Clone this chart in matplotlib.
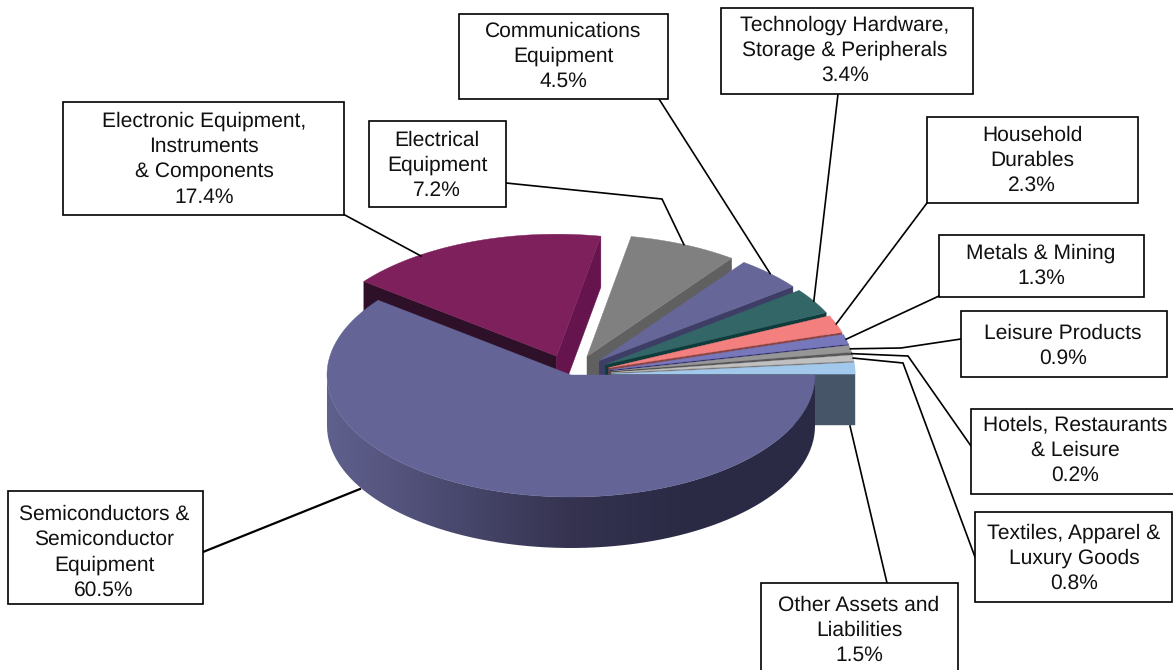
import matplotlib
matplotlib.use("Agg")
import matplotlib.pyplot as plt
from matplotlib.colors import LinearSegmentedColormap
from matplotlib.patches import Polygon, Rectangle
import numpy as np

plt.rcParams['font.family'] = ['Liberation Sans', 'DejaVu Sans']
plt.rcParams['text.hinting'] = 'no_hinting'
plt.rcParams['text.hinting_factor'] = 1

# chart data
sectors = ["Semiconductors &\nSemiconductor\nEquipment",
           "Electronic Equipment,\nInstruments\n& Components",
           "Electrical\nEquipment",
           "Communications\nEquipment",
           "Technology Hardware,\nStorage & Peripherals",
           "Household\nDurables",
           "Metals & Mining",
           "Leisure Products",
           "Hotels, Restaurants\n& Leisure",
           "Textiles, Apparel &\nLuxury Goods",
           "Other Assets and\nLiabilities"]
weights = [60.5, 17.4, 7.2, 4.5, 3.4, 2.3, 1.3, 0.9, 0.2, 0.8, 1.5]

# slice colours
top_colors = ["#646496", "#7e205c", "#808080", "#666699", "#336666", "#f47f7f",
              "#7777bb", "#969696", "#5a5a5a", "#c0c0c0", "#a2c8ec"]
side_colors = ["#2a2a45", "#66144e", "#606060", "#3d3d66", "#0f3b3b", "#8a4444",
               "#2d2d70", "#555555", "#333333", "#777777", "#465668"]

# pixel layout of the picture
cx, cy = 571, 375
rx, ry = 244, 122
depth = 51
explode = 0.165

# box: x0, y0, x1, y1, text centre x, first line y
boxes = [(8, 491, 203, 604, 104, 513),
         (63, 102, 344, 215, 204, 120),
         (369, 121, 506, 207, 437, 139),
         (459, 14, 668, 99, 563, 30),
         (721, 8, 973, 94, 845, 24),
         (927, 117, 1138, 203, 1032, 134),
         (939, 235, 1144, 297, 1041, 252),
         (961, 311, 1167, 377, 1063, 332),
         (971, 409, 1178, 494, 1075, 424),
         (975, 512, 1172, 602, 1074, 532),
         (761, 583, 958, 680, 859, 604)]

# leader lines, box end first. None means the end sits on the middle of the slice arc
leaders = [[(203, 552), (360, 489)],
           [(343, 214), (421, 256)],
           [(506, 183), (662, 199), None],
           [(659, 99), None],
           [(838, 94), None],
           [(927, 203), None],
           [(939, 296), None],
           [(961, 339), (901, 348), None],
           [(971, 446), (908, 356), None],
           [(975, 557), (903, 363), None],
           [(887, 583), (850, 426)]]
leader_widths = [1.6, 1.2, 1.2, 1.2, 1.2, 1.2, 1.2, 1.2, 1.2, 1.2, 1.2]

fig = plt.figure(figsize=(11.73, 6.70), dpi=100)
ax = fig.add_axes([0, 0, 1, 1])
ax.axis("off")


def arc(apex, a0, a1, n=80):
    t = np.radians(np.linspace(a0, a1, n))
    return np.column_stack((apex[0] + rx * np.cos(t), apex[1] + ry * np.sin(t)))


def edge(apex, a):
    return arc(apex, a, a, 1)[0]


def radial_face(apex, a, color, z):
    p = edge(apex, a)
    pts = [apex, p, (p[0], p[1] + depth), (apex[0], apex[1] + depth)]
    ax.add_patch(Polygon(pts, closed=True, fc=color, ec=color, lw=0.3, zorder=z))


ends = np.cumsum(weights) / np.sum(weights) * 360
starts = np.concatenate(([0], ends[:-1]))
mids = (starts + ends) / 2

# exploded slices, back to front
apexes = [(cx, cy)]
z = 2
for i in range(1, len(weights)):
    t = np.radians(mids[i])
    apex = (cx + explode * rx * np.cos(t), cy + explode * ry * np.sin(t))
    apexes.append(apex)
    if i == 1:
        radial_face(apex, starts[i], "#2e1028", z)
    radial_face(apex, ends[i], side_colors[i], z + 0.1)
    pts = np.vstack(([apex], arc(apex, starts[i], ends[i])))
    ax.add_patch(Polygon(pts, closed=True, fc=top_colors[i], ec=top_colors[i], lw=0.3, zorder=z + 0.2))
    z += 1

# big slice: rim with a horizontal shade, then its top
rim_top = arc((cx, cy), 0, 180)
rim_bottom = rim_top[::-1] + [0, depth]
rim = Polygon(np.vstack((rim_top, rim_bottom)), closed=True, transform=ax.transData, fc="none", ec="none", zorder=z)
ax.add_patch(rim)
shade = LinearSegmentedColormap.from_list("rim", ["#60608e", "#4a4a70", "#35334f", "#2a2a45", "#2a2a45"])
grad = np.linspace(0, 1, 256).reshape(1, -1)
img = ax.imshow(grad, cmap=shade, extent=(cx - rx, cx + rx, cy + ry + depth, cy), aspect="auto", zorder=z + 0.1)
img.set_clip_path(rim)
pts = np.vstack(([(cx, cy)], arc((cx, cy), starts[0], ends[0], 200)))
ax.add_patch(Polygon(pts, closed=True, fc=top_colors[0], ec=top_colors[0], lw=0.3, zorder=z + 0.2))
z += 1

# leaders and label boxes
for i in range(len(sectors)):
    path = []
    for p in leaders[i]:
        path.append(edge(apexes[i], mids[i]) if p is None else p)
    path = np.array(path)
    ax.plot(path[:, 0], path[:, 1], color="black", lw=leader_widths[i], zorder=z, solid_joinstyle="miter")

    x0, y0, x1, y1, tx, ty = boxes[i]
    ax.add_patch(Rectangle((x0, y0), x1 - x0, y1 - y0, fc="white", ec="black", lw=1.2, zorder=z + 0.1))
    lines = sectors[i].split("\n") + ["%.1f%%" % weights[i]]
    for j, line in enumerate(lines):
        ax.text(tx, ty + 1 + j * 25.4, line, ha="center", va="center", fontsize=15.3, color="#111111", zorder=z + 0.2)

ax.set_xlim(0, 1173)
ax.set_ylim(670, 0)
fig.savefig("out.png", dpi=100, facecolor="white")
